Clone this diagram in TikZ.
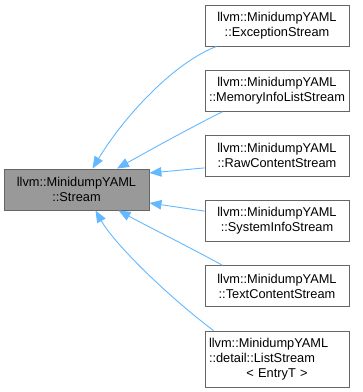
\documentclass[tikz,border=0pt]{standalone}
\usepackage{tikz}
\usepackage{xcolor}
\usepackage{fontspec}
\setmainfont{Liberation Sans}
\usetikzlibrary{arrows.meta,
	positioning}
\definecolor{edgeblue}{HTML}{63B8FF}
\definecolor{boxline}{HTML}{666666}
\definecolor{basefill}{HTML}{999999}
\tikzstyle{cls}=[draw=boxline, line width=0.9pt, inner sep=0, align=center,
		minimum width=144pt, minimum height=41pt,
		font=\fontsize{12.8}{15}\selectfont]
\tikzstyle{bc}=[cls, fill=basefill, minimum width=145pt]
\tikzstyle{dc}=[cls, fill=white]
\tikzstyle{ih}=[draw=edgeblue, line width=0.9pt,
		{Triangle[length=12pt,width=9.5pt]}-]

\begin{document}
\begin{tikzpicture}[x=1pt, y=-1pt]
                \useasboundingbox (0,0) rectangle (363,392);
                % base class
                \node[bc] (stream) at (76.5,189.5) {llvm::MinidumpYAML\\::Stream};
                % derived classes
                \node[dc] (exc) at (277,25.5) {llvm::MinidumpYAML\\::ExceptionStream};
                \node[dc] (mem) at (277,90.7) {llvm::MinidumpYAML\\::MemoryInfoListStream};
                \node[dc] (raw) at (277,155.9) {llvm::MinidumpYAML\\::RawContentStream};
                \node[dc] (sys) at (277,221.1) {llvm::MinidumpYAML\\::SystemInfoStream};
                \node[dc] (txt) at (277,286.3) {llvm::MinidumpYAML\\::TextContentStream};
                \node[dc, minimum height=56pt, text width=136pt, align=left] (lst) at (277,359)
                    {llvm::MinidumpYAML\\::detail::ListStream\\\makebox[\linewidth]{< EntryT >}};
                % inheritance edges
                \draw[ih] ([xshift=16pt]stream.north) .. controls (125,115) and (175,62) .. ([xshift=12pt]exc.south west);
                \draw[ih] ([xshift=40.5pt]stream.north) .. controls (150,150) and (190,128) .. ([xshift=18pt]mem.south west);
                \draw[ih] ([yshift=16.5pt]stream.east) -- ([yshift=-12pt]raw.west);
                \draw[ih] ([yshift=-13.5pt]stream.east) -- ([yshift=10pt]sys.west);
                \draw[ih] ([xshift=42pt]stream.south) .. controls (145,225) and (195,250) .. ([xshift=18pt]txt.north west);
                \draw[ih] ([xshift=19pt]stream.south) .. controls (115,245) and (170,298) .. ([xshift=9pt]lst.north west);
            \end{tikzpicture}
\end{document}
